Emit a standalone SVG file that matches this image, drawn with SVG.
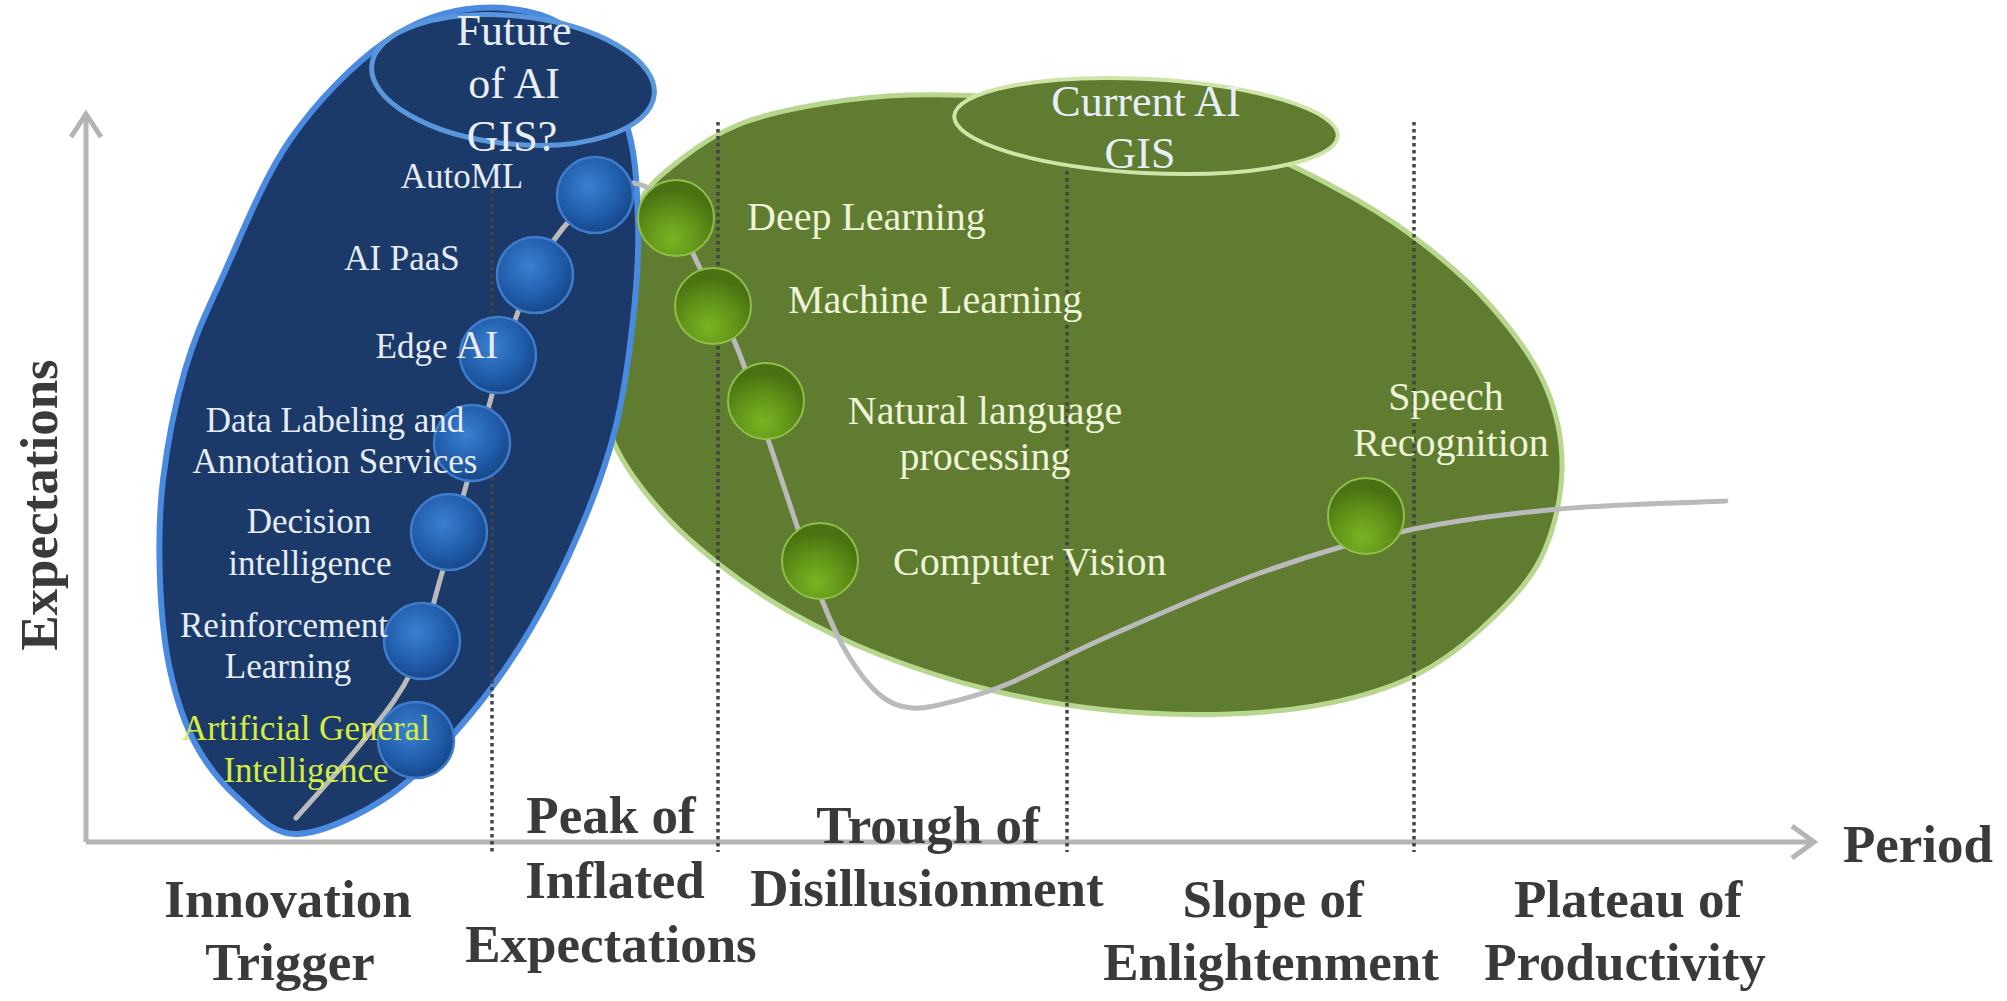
<svg xmlns="http://www.w3.org/2000/svg" width="2007" height="1001" viewBox="0 0 2007 1001">
<style>
.ax{font-family:"Liberation Serif","Times New Roman",serif;font-weight:bold;font-size:53px;fill:#3a3a3a;text-anchor:middle}
.bl{font-family:"Liberation Serif","Times New Roman",serif;font-size:35px;fill:#e6ecf6;text-anchor:middle}
.gl{font-family:"Liberation Serif","Times New Roman",serif;font-size:40px;fill:#eef4d8}
.tt{font-family:"Liberation Serif","Times New Roman",serif;font-size:44px;fill:#e8eef8;text-anchor:middle}
.agi{fill:#d6ec3e}
.axis{stroke:#b4b4b4;stroke-width:5;fill:none}
.dot{stroke:#444444;stroke-width:3.5;stroke-dasharray:3.5 3.5;fill:none}
.bc{fill:url(#gb);stroke:#3f7ccb;stroke-width:2.5}
.gc{fill:url(#gg);stroke:#8fbf4a;stroke-width:2}
</style>
<defs>
<radialGradient id="gb" cx="42%" cy="38%" r="60%">
<stop offset="0" stop-color="#3a80d2"/>
<stop offset="0.7" stop-color="#205ca9"/>
<stop offset="1" stop-color="#184a8e"/>
</radialGradient>
<radialGradient id="gg" cx="45%" cy="78%" r="65%">
<stop offset="0" stop-color="#7bb422"/>
<stop offset="0.6" stop-color="#5f9018"/>
<stop offset="1" stop-color="#4a7212"/>
</radialGradient>
</defs>
<rect width="2007" height="1001" fill="#ffffff"/>

<g id="axes">
<line class="axis" x1="86" y1="842" x2="86" y2="118"/>
<path class="axis" stroke-width="4" d="M71,137 L86,114 L101,137"/>
<line class="axis" x1="86" y1="842" x2="1810" y2="842"/>
<path class="axis" stroke-width="4" d="M1792,826 L1814,842 L1792,858"/>
<text class="ax" x="57" y="505" font-size="51" transform="rotate(-90 57 505)">Expectations</text>
<text class="ax" x="1918" y="862">Period</text>
</g>

<g id="region-current">
<path fill="#607c30" stroke="#b7d68e" stroke-width="5" d="M637,205 C649.5,183.3 662.8,173.5 680,160 C697.2,146.5 716.7,133.3 740,124 C763.3,114.7 791.7,108.8 820,104 C848.3,99.2 878.3,96 910,95 C941.7,94 975,95.2 1010,98 C1045,100.8 1083.3,105 1120,112 C1156.7,119 1195,127.8 1230,140 C1265,152.2 1299.3,168.8 1330,185 C1360.7,201.2 1387.3,217 1414,237 C1440.7,257 1468.2,280.3 1490,305 C1511.8,329.7 1533,357.5 1545,385 C1557,412.5 1562.8,440.8 1562,470 C1561.2,499.2 1553.7,533.3 1540,560 C1526.3,586.7 1501,610.7 1480,630 C1459,649.3 1439,663.8 1414,676 C1389,688.2 1360.7,696.7 1330,703 C1299.3,709.3 1267.2,712.8 1230,714 C1192.8,715.2 1147,714 1107,710 C1067,706 1027.8,699.2 990,690 C952.2,680.8 913.3,668 880,655 C846.7,642 816.7,627 790,612 C763.3,597 741.7,582 720,565 C698.3,548 677.5,530 660,510 C642.5,490 625.3,468.3 615,445 C604.7,421.7 599.7,395.8 598,370 C596.3,344.2 598.5,317.5 605,290 C611.5,262.5 624.5,226.7 637,205 Z"/>
</g>

<g id="region-future">
<path fill="#1c3a69" stroke="#4a8ae0" stroke-width="6" d="M297,834 C272,834.8 256.8,814.8 240,800 C223.2,785.2 207.7,766.7 196,745 C184.3,723.3 176,697.5 170,670 C164,642.5 161.2,611.7 160,580 C158.8,548.3 158.8,515 163,480 C167.2,445 175.2,403.7 185,370 C194.8,336.3 204.5,316.3 222,278 C239.5,239.7 262.8,179.3 290,140 C317.2,100.7 353.7,64 385,42 C416.3,20 447.2,10 478,8 C508.8,6 545.5,11.3 570,30 C594.5,48.7 613.7,88.3 625,120 C636.3,151.7 636.7,186.7 638,220 C639.3,253.3 636.8,285 633,320 C629.2,355 623.8,395 615,430 C606.2,465 594.2,496.7 580,530 C565.8,563.3 548.3,599.2 530,630 C511.7,660.8 493.3,687.5 470,715 C446.7,742.5 418.8,775.2 390,795 C361.2,814.8 322,833.2 297,834 Z"/>
</g>

<g id="phase-dividers">
<line class="dot" x1="492" y1="190" x2="492" y2="852"/>
<line class="dot" x1="718" y1="122" x2="718" y2="852"/>
<line class="dot" x1="1067" y1="122" x2="1067" y2="852"/>
<line class="dot" x1="1414" y1="122" x2="1414" y2="852"/>
</g>

<g id="connectors">
<path fill="none" stroke="#bababa" stroke-width="5" stroke-linecap="round" d="M296,818 C307.3,805 344.7,764.7 364,740 C383.3,715.3 399.3,696.7 412,670 C424.7,643.3 431.7,608.3 440,580 C448.3,551.7 454.5,526.7 462,500 C469.5,473.3 477.3,446.7 485,420 C492.7,393.3 498.8,366.3 508,340 C517.2,313.7 527.2,284.5 540,262 C552.8,239.5 570,218.2 585,205 C600,191.8 616.2,183 630,183 C643.8,183 656.8,191.8 668,205 C679.2,218.2 685.3,237.8 697,262 C708.7,286.2 726.7,322 738,350 C749.3,378 755.5,401.7 765,430 C774.5,458.3 785.5,491.7 795,520 C804.5,548.3 813.2,577.5 822,600 C830.8,622.5 838.3,639.2 848,655 C857.7,670.8 869.3,686.2 880,695 C890.7,703.8 899.5,707 912,708 C924.5,709 938.7,705.2 955,701 C971.3,696.8 984.7,693.7 1010,683 C1035.3,672.3 1065.3,655.3 1107,637 C1148.7,618.7 1210.3,590.7 1260,573 C1309.7,555.3 1355.2,541.7 1405,531 C1454.8,520.3 1505.5,514 1559,509 C1612.5,504 1698.2,502.3 1726,501"/>
</g>

<g id="title-future">
<ellipse cx="513" cy="80" rx="142" ry="64" transform="rotate(6 513 80)" fill="#1c3a69" stroke="#5a96dc" stroke-width="5"/>
<text class="tt" x="514" y="45">Future</text>
<text class="tt" x="514" y="98">of AI</text>
<text class="tt" x="512" y="151">GIS?</text>
</g>

<g id="title-current">
<ellipse cx="1146" cy="126" rx="192" ry="47" transform="rotate(3 1146 126)" fill="#607c30" stroke="#cfe5a8" stroke-width="4"/>
<text class="tt" x="1146" y="116" fill="#eef4dc">Current AI</text>
<text class="tt" x="1140" y="168" fill="#eef4dc">GIS</text>
</g>

<g id="node-automl"><circle class="bc" cx="595" cy="195" r="38"/><text class="bl" x="462" y="188">AutoML</text></g>
<g id="node-aipaas"><circle class="bc" cx="535" cy="275" r="38"/><text class="bl" x="402" y="270">AI PaaS</text></g>
<g id="node-edgeai"><circle class="bc" cx="498" cy="355" r="38"/><text class="bl" x="437" y="358" text-anchor="end">Edge <tspan font-size="40">AI</tspan></text></g>
<g id="node-datalabeling"><circle class="bc" cx="472" cy="443" r="38"/><text class="bl" x="335" y="432">Data Labeling and</text><text class="bl" x="335" y="473">Annotation Services</text></g>
<g id="node-decision"><circle class="bc" cx="449" cy="532" r="38"/><text class="bl" x="309" y="533">Decision</text><text class="bl" x="310" y="575">intelligence</text></g>
<g id="node-reinforcement"><circle class="bc" cx="422" cy="641" r="38"/><text class="bl" x="284" y="637">Reinforcement</text><text class="bl" x="288" y="678">Learning</text></g>
<g id="node-agi"><circle class="bc" cx="416" cy="740" r="38"/><text class="bl agi" x="306" y="740" font-size="36">Artificial General</text><text class="bl agi" x="306" y="782" font-size="36">Intelligence</text></g>

<g id="node-deeplearning"><circle class="gc" cx="676" cy="218" r="38"/><text class="gl" x="747" y="230">Deep Learning</text></g>
<g id="node-machinelearning"><circle class="gc" cx="713" cy="306" r="38"/><text class="gl" x="788" y="313">Machine Learning</text></g>
<g id="node-nlp"><circle class="gc" cx="766" cy="401" r="38"/><text class="gl" x="985" y="424" text-anchor="middle">Natural language</text><text class="gl" x="985" y="470" text-anchor="middle">processing</text></g>
<g id="node-cv"><circle class="gc" cx="820" cy="561" r="38"/><text class="gl" x="893" y="575">Computer Vision</text></g>
<g id="node-speech"><circle class="gc" cx="1366" cy="516" r="38"/><text class="gl" x="1446" y="410" text-anchor="middle">Speech</text><text class="gl" x="1451" y="456" text-anchor="middle">Recognition</text></g>

<g id="phase-labels">
<text class="ax" x="288" y="917">Innovation</text>
<text class="ax" x="290" y="980">Trigger</text>
<text class="ax" x="611" y="833">Peak of</text>
<text class="ax" x="615" y="898">Inflated</text>
<text class="ax" x="611" y="962">Expectations</text>
<text class="ax" x="928" y="843">Trough of</text>
<text class="ax" x="927" y="906">Disillusionment</text>
<text class="ax" x="1273" y="917">Slope of</text>
<text class="ax" x="1271" y="980">Enlightenment</text>
<text class="ax" x="1628" y="917">Plateau of</text>
<text class="ax" x="1625" y="980">Productivity</text>
</g>
</svg>
